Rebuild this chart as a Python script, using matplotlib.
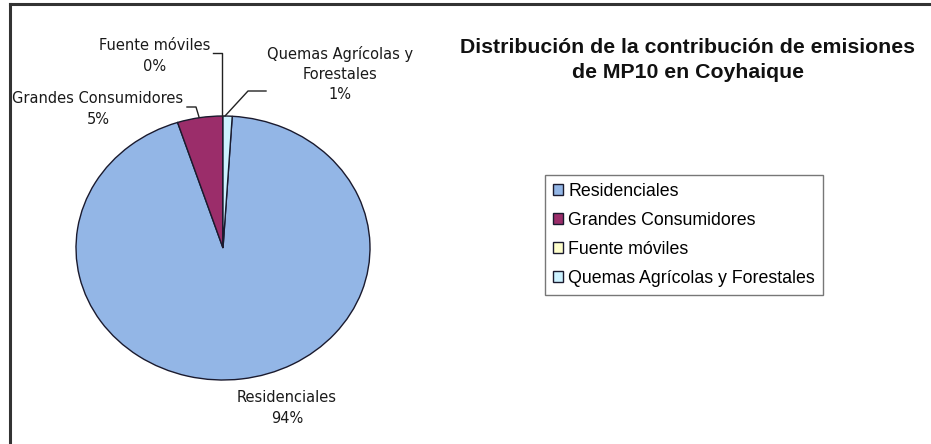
import matplotlib.pyplot as plt
from matplotlib.lines import Line2D

# datos del grafico
categorias = ['Residenciales', 'Grandes Consumidores', 'Fuente móviles', 'Quemas Agrícolas y Forestales']
porcentajes = [94, 5, 0, 1]
etiquetas = ['Residenciales\n94%', 'Grandes Consumidores\n5%', 'Fuente móviles\n0%', 'Quemas Agrícolas y\nForestales\n1%']
colores = ['#93b6e6', '#9b2d6a', '#ffffcc', '#ccf2ff']

W, H = 931, 444
fig = plt.figure(figsize=(W / 100, H / 100), dpi=100)
fig.patch.set_facecolor('white')

# marco del grafico (borde izquierdo y superior)
fig.add_artist(Line2D([9.5 / W, 9.5 / W], [0, 1 - 4 / H], color='#333333', lw=2.2))
fig.add_artist(Line2D([9.5 / W, 1], [1 - 4 / H, 1 - 4 / H], color='#333333', lw=2.2))

# ejes del pastel (centro ~ (223, 248) px, radios 147 x 132)
cx, cy, rx, ry = 223, 248, 147, 132
ax = fig.add_axes([(cx - rx) / W, (H - cy - ry) / H, 2 * rx / W, 2 * ry / H])
inicio = 90 - porcentajes[3] / 100 * 360
wedges, _ = ax.pie(porcentajes, colors=colores, startangle=inicio, counterclock=False,
                   wedgeprops=dict(edgecolor='#1a1a2e', linewidth=1.0))
ax.set_aspect('auto')
ax.set_xlim(-1, 1)
ax.set_ylim(-1, 1)


def d(px, py):
    # pixel -> coordenadas de datos del pastel
    return (px - cx) / rx, (cy - py) / ry


lab_font = dict(family='DejaVu Sans', fontsize=10.5, color='#1a1a1a', ha='center', va='center',
                linespacing=1.45)
posiciones = [(287, 408), (98, 109), (155, 56), (340, 74)]
for txt, (px, py) in zip(etiquetas, posiciones):
    x, y = d(px, py)
    ax.text(x, y, txt, clip_on=False, **lab_font)

# lineas guia
guias = [
    [(187, 107), (196, 107), (199, 117)],
    [(213, 53), (222, 53), (222, 116)],
    [(266, 91), (248, 91), (225, 116)],
]
for g in guias:
    xs, ys = zip(*[d(*p) for p in g])
    ax.plot(xs, ys, color='#222222', lw=1.0, clip_on=False)

# titulo
fig.text(688 / W, 1 - 60 / H, 'Distribución de la contribución de emisiones\nde MP10 en Coyhaique',
         ha='center', va='center', fontsize=15.3, fontweight='bold', family='Liberation Sans',
         color='#111111', linespacing=1.45)

# leyenda
leg = fig.legend(wedges, categorias, loc='upper left', bbox_to_anchor=(545 / W, 1 - 175 / H),
                 prop={'family': 'Liberation Sans', 'size': 12.8}, frameon=True, fancybox=False,
                 edgecolor='#555555', handlelength=0.55, handleheight=0.55, handletextpad=0.3,
                 labelspacing=0.67, borderpad=0.45, borderaxespad=0)
leg.get_frame().set_linewidth(1.0)

fig.savefig('out.png', dpi=100, facecolor='white')
